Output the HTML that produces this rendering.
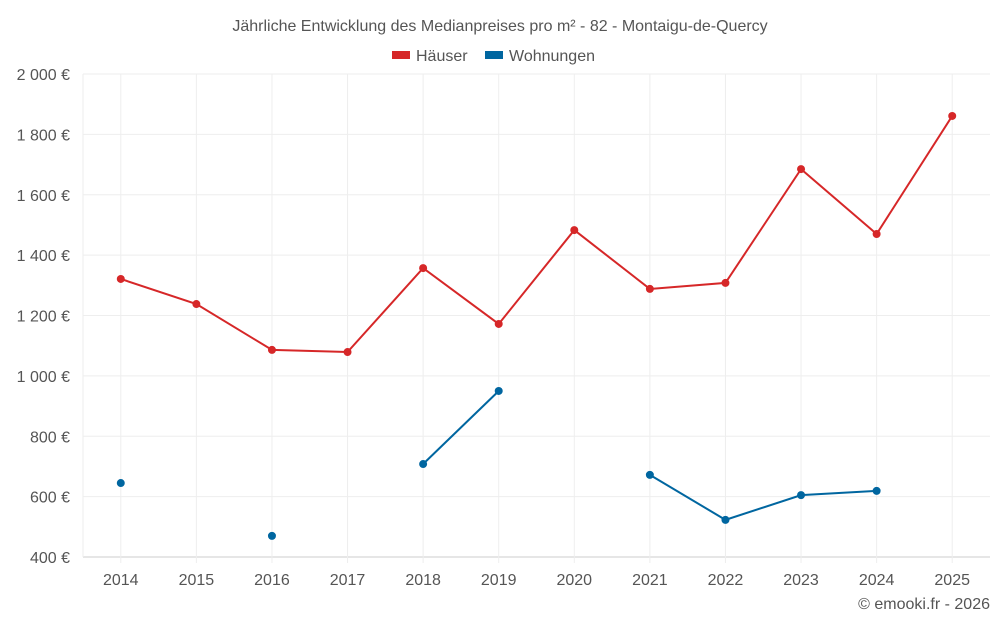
<!DOCTYPE html>
<html><head><meta charset="utf-8"><style>
body{margin:0;background:#fff;font-family:"Liberation Sans",sans-serif}
svg text{font-family:"Liberation Sans",sans-serif}
</style></head><body>
<svg id="chart" width="1000" height="625">
<text x="500" y="31" text-anchor="middle" font-size="16" fill="#555">Jährliche Entwicklung des Medianpreises pro m² - 82 - Montaigu-de-Quercy</text>
<g>
<g><rect x="392" y="51" width="18" height="8" fill="#d62728"/><text x="416" y="61" font-size="16" fill="#555">Häuser</text></g>
<g><rect x="485" y="51" width="18" height="8" fill="#0066a0"/><text x="509" y="61" font-size="16" fill="#555">Wohnungen</text></g>
</g>
<g id="grid"></g><g id="axes"></g><g id="series"></g>
<text x="990" y="609" text-anchor="end" font-size="16" fill="#555">© emooki.fr - 2026</text>
</svg>
<script>
const years=[2014,2015,2016,2017,2018,2019,2020,2021,2022,2023,2024,2025];
const houses=[1321,1238,1086,1079,1357,1172,1483,1288,1308,1685,1470,1861];
const apartments=[645,null,470,null,708,950,null,672,523,605,619,null];
const yTicks=[400,600,800,1000,1200,1400,1600,1800,2000];
const yTickLabels=["400 €","600 €","800 €","1 000 €","1 200 €","1 400 €","1 600 €","1 800 €","2 000 €"];
const L=83,R=990,T=74,B=557,ymin=400,ymax=2000;
const step=(R-L)/years.length;
const x=i=>L+step*(i+0.5);
const y=v=>B-(v-ymin)/(ymax-ymin)*(B-T);
const NS="http://www.w3.org/2000/svg";
function mk(tag,attrs,parent){const e=document.createElementNS(NS,tag);for(const k in attrs)e.setAttribute(k,attrs[k]);parent.appendChild(e);return e;}
const grid=document.getElementById('grid'),axes=document.getElementById('axes'),ser=document.getElementById('series');
yTicks.forEach((t,i)=>{
 const l=mk('line',{x1:L,x2:R,y1:y(t),y2:y(t),stroke:i==0?'#ccc':'#eee'},grid);
 
 
 const tx=mk('text',{x:70,y:y(t)+6,'text-anchor':'end','font-size':16,fill:'#555'},axes);
 tx.textContent=yTickLabels[i];
 
 
});
const le=mk('line',{x1:L,x2:L,y1:T,y2:B,stroke:'#eee'},grid);


years.forEach((yr,i)=>{
 const g=mk('line',{x1:x(i),x2:x(i),y1:T,y2:B+6,stroke:'#eee'},grid);
 
 
 const tx=mk('text',{x:x(i),y:B+28,'text-anchor':'middle','font-size':16,fill:'#555'},axes);
 tx.textContent=yr;
 
 
});
function draw(vals,color,name){
 let seg=[];
 const flush=()=>{if(seg.length>1){const p=mk('polyline',{points:seg.join(' '),fill:'none',stroke:color,'stroke-width':2},ser);
 
 }seg=[];};
 vals.forEach((v,i)=>{if(v==null){flush();return;}seg.push(x(i)+','+y(v));});
 flush();
 vals.forEach((v,i)=>{if(v==null)return;const c=mk('circle',{cx:x(i),cy:y(v),r:4,fill:color},ser);
 
 });
}
draw(houses,'#d62728','haeuser');
draw(apartments,'#0066a0','wohnungen');
</script>
</body></html>
